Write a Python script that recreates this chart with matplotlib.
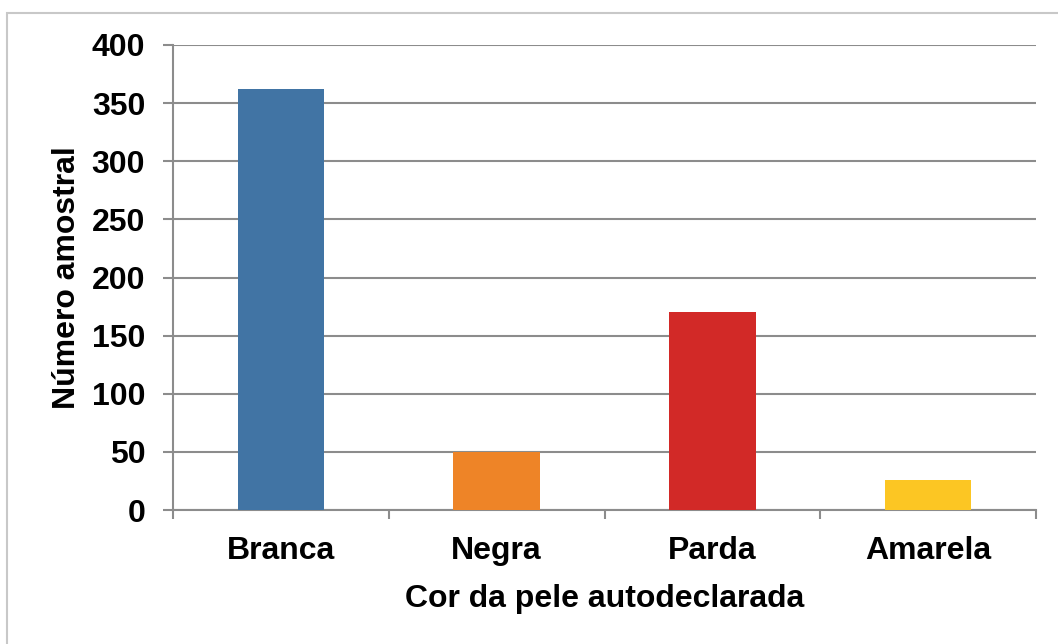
import matplotlib.pyplot as plt
from matplotlib.patches import Rectangle

categories = ["Branca", "Negra", "Parda", "Amarela"]
values = [362, 50, 170, 26]
colors = ["#4174a4", "#ee8427", "#d22927", "#fcc623"]
y_ticks = [0, 50, 100, 150, 200, 250, 300, 350, 400]

plt.rcParams['font.family'] = ['Liberation Sans', 'DejaVu Sans']
plt.rcParams['font.weight'] = 'bold'

fig = plt.figure(figsize=(10.58, 6.44), dpi=100)
W, H = 1058, 644

# outer frame
fig.patches.append(Rectangle((7 / W, -0.05), 1.1, 1 - 13 / H + 0.05,
                             transform=fig.transFigure, fill=False,
                             edgecolor="#c8c8c8", linewidth=1.5))

ax = fig.add_axes([173 / W, 1 - 510 / H, (1036 - 173) / W, (510 - 45) / H])

x = range(len(categories))
ax.bar(x, values, width=0.4, color=colors, zorder=3)

ax.set_xlim(-0.5, 3.5)
ax.set_ylim(0, 400)
ax.set_yticks(y_ticks)
ax.set_yticklabels([str(v) for v in y_ticks], fontsize=23, fontweight='bold')
ax.yaxis.grid(True, color="#8c8c8c", linewidth=1.5, zorder=0)

# x ticks at category boundaries, labels centered
ax.set_xticks([-0.5, 0.5, 1.5, 2.5, 3.5])
ax.set_xticklabels([])
ax.set_xticks(list(x), minor=True)
ax.set_xticklabels(categories, minor=True, fontsize=23, fontweight='bold')
ax.tick_params(axis='x', which='minor', length=0, pad=19)
ax.tick_params(axis='x', which='major', length=6.5, color="#8c8c8c", width=1.5)
ax.tick_params(axis='y', length=7, color="#8c8c8c", width=1.5, pad=13)

for side in ['top', 'right']:
    ax.spines[side].set_visible(False)
for side in ['left', 'bottom']:
    ax.spines[side].set_color("#8c8c8c")
    ax.spines[side].set_linewidth(1.5)

ax.set_xlabel("Cor da pele autodeclarada", fontsize=23, fontweight='bold', labelpad=13)
ax.set_ylabel("Número amostral", fontsize=23, fontweight='bold', labelpad=7)

fig.savefig("out.png", dpi=100)
